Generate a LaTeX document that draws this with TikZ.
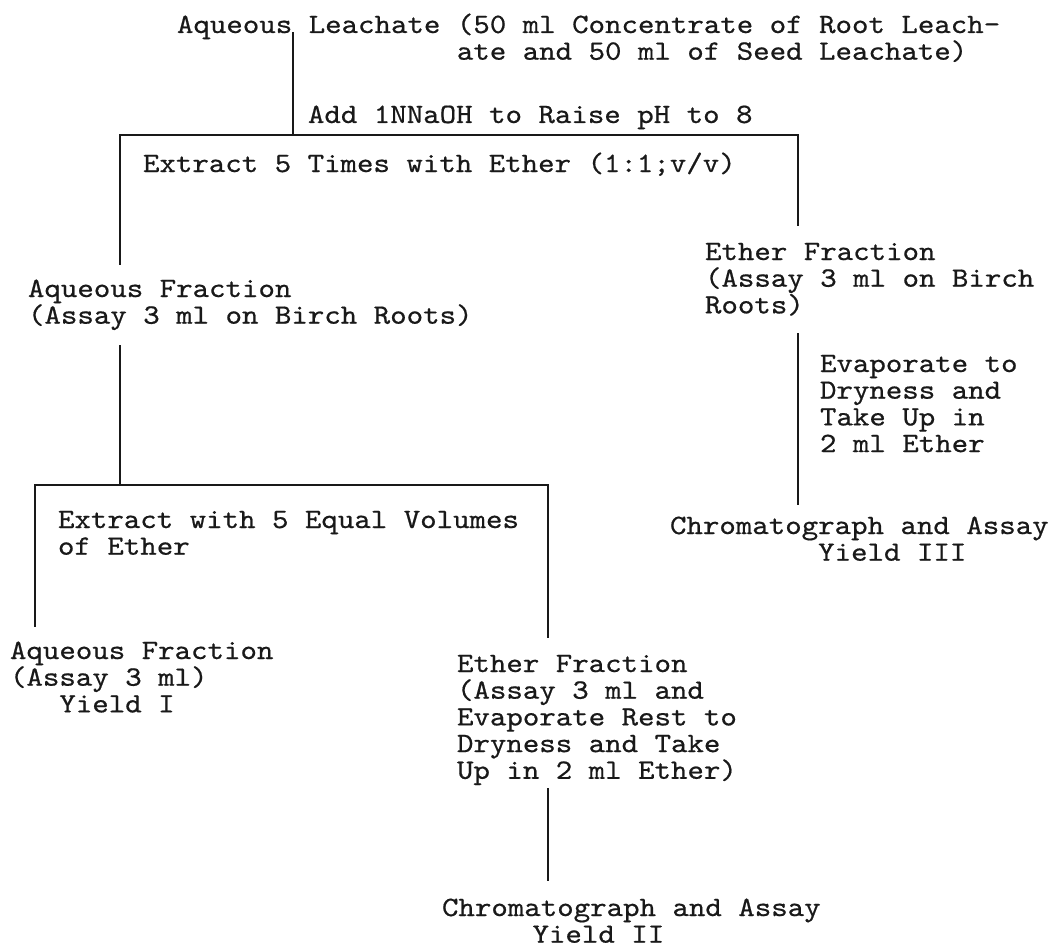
\documentclass[tikz,border=0pt]{standalone}
\usepackage{fontspec}
\newfontfamily\tw{lmmono10-regular.otf}[FakeStretch=1.12, FakeBold=0.6]
\usetikzlibrary{positioning, calc}
% typed lines, first baseline is the node baseline
\newcommand\txtlines[1]{\vtop{\baselineskip=26.7pt\lineskiplimit=-\maxdimen\lineskip=0pt\halign{##\hfil\cr#1\crcr}}}

\begin{document}
\begin{tikzpicture}[x=1pt, y=-1pt]
        \tikzstyle{txt} = [font=\fontsize{28pt}{26.7pt}\tw, text=black!90, inner sep=0pt, outer sep=0pt, anchor=base west]
        \tikzstyle{link} = [line width=1.7pt, line cap=rect, black!90]
        \useasboundingbox (0,0) rectangle (1057,947);

        % Start
        \node (lead) [txt] at (177,33) {\txtlines{Aqueous Leachate (50 ml Concentrate of Root Leach-\cr
            \hspace*{9.996em}ate and 50 ml of Seed Leachate)}};
        \node (addlbl) [txt] at (308,123) {Add 1NNaOH to Raise pH to 8};

        % First extraction
        \node (ext1) [txt] at (143,172) {Extract 5 Times with Ether (1:1;v/v)};
        \node (aqfrac) [txt] at (28,297) {\txtlines{Aqueous Fraction\cr (Assay 3 ml on Birch Roots)}};
        \node (ethfrac) [txt] at (705,260) {\txtlines{Ether Fraction\cr (Assay 3 ml on Birch\cr Roots)}};

        % Ether branch
        \node (evap) [txt] at (820,372) {\txtlines{Evaporate to\cr Dryness and\cr Take Up in\cr 2 ml Ether}};
        \node (yield3) [txt] at (670,534) {\txtlines{Chromatograph and Assay\cr \hspace*{5.292em}Yield III}};

        % Second extraction
        \node (ext2) [txt] at (58,528) {\txtlines{Extract with 5 Equal Volumes\cr of Ether}};
        \node (aqfrac2) [txt] at (10,659) {\txtlines{Aqueous Fraction\cr (Assay 3 ml)\cr \hspace*{1.764em}Yield I}};
        \node (ethfrac2) [txt] at (457,672) {\txtlines{Ether Fraction\cr (Assay 3 ml and\cr Evaporate Rest to\cr Dryness and Take\cr Up in 2 ml Ether)}};
        \node (yield2) [txt] at (442,916) {\txtlines{Chromatograph and Assay\cr \hspace*{3.234em}Yield II}};

        % Split points
        \coordinate (split1) at (293,135);
        \coordinate (bar1l) at (120,135);
        \coordinate (bar1r) at (798,135);
        \coordinate (split2) at (120,485);
        \coordinate (bar2l) at (35,485);
        \coordinate (bar2r) at (548,485);

        % Lines
        \draw [link] (lead.base -| split1) -- (split1);
        \draw [link] (bar1l) -- (bar1r);
        \draw [link, shorten >=15pt] (bar1l) -- (bar1l |- aqfrac.north);
        \draw [link, shorten >=18pt] (bar1r) -- (bar1r |- ethfrac.north);
        \draw [link, shorten <=16pt] (aqfrac.south -| split2) -- (split2);
        \draw [link, shorten <=18pt, shorten >=12pt] (ethfrac.south -| bar1r) -- (yield3.north -| bar1r);
        \draw [link] (bar2l) -- (bar2r);
        \draw [link, shorten >=15pt] (bar2l) -- (bar2l |- aqfrac2.north);
        \draw [link, shorten >=18pt] (bar2r) -- (bar2r |- ethfrac2.north);
        \draw [link, shorten <=4pt, shorten >=18pt] (ethfrac2.south -| bar2r) -- (yield2.north -| bar2r);
    \end{tikzpicture}
\end{document}
